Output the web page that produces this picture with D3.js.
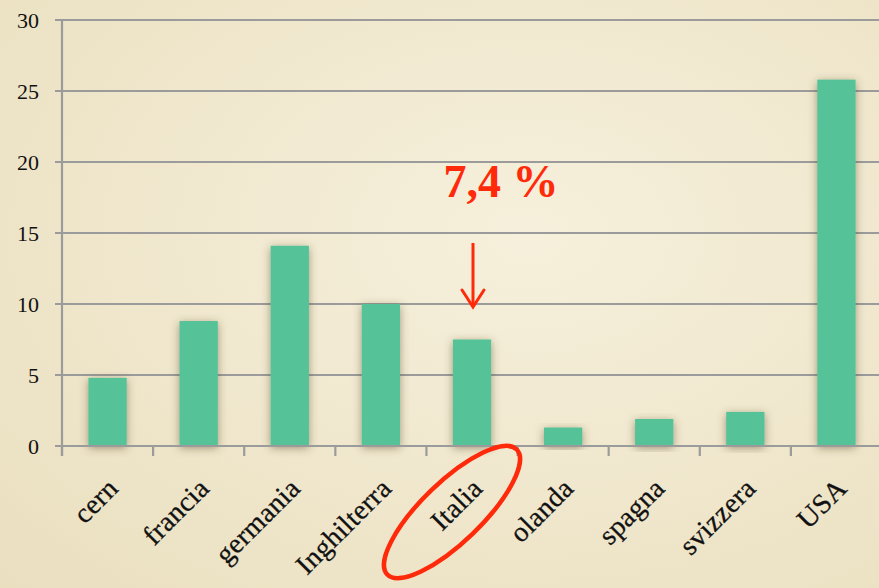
<!DOCTYPE html>
<html><head><meta charset="utf-8">
<script src="https://cdn.jsdelivr.net/npm/d3@7"></script>
<style>
html,body{margin:0;padding:0;background:#f3ecd5;}
svg{display:block;}
</style></head>
<body>
<svg id="chart" width="879" height="588"></svg>
<script>
const categories = ["cern","francia","germania","Inghilterra","Italia","olanda","spagna","svizzera","USA"];
const values = [4.8, 8.8, 14.1, 10.0, 7.5, 1.3, 1.9, 2.4, 25.8];
const yTicks = [0,5,10,15,20,25,30];
const annotationText = "7,4 %";
const highlight = "Italia";

const W = 879, H = 588;
const svg = d3.select("#chart");
const defs = svg.append("defs");

const bg = defs.append("radialGradient").attr("id","bg").attr("cx","60%").attr("cy","40%").attr("r","85%");
bg.append("stop").attr("offset","0%").attr("stop-color","#f6f0dc");
bg.append("stop").attr("offset","100%").attr("stop-color","#eadfbf");
const f = defs.append("filter").attr("id","sh").attr("x","-50%").attr("y","-20%").attr("width","200%").attr("height","140%");
f.append("feDropShadow").attr("dx",0).attr("dy",2).attr("stdDeviation",4.5).attr("flood-color","#4a3a20").attr("flood-opacity",0.5);

svg.append("rect").attr("width",W).attr("height",H).attr("fill","url(#bg)");

const x0 = 62, x1 = 882, yTop = 20, yBot = 446;
const x = d3.scaleBand().domain(categories).range([x0,x1]).paddingInner(0.58).paddingOuter(0.29);
const y = d3.scaleLinear().domain([0,30]).range([yBot,yTop]);

const grid = "#9b9b9b";
svg.append("g").selectAll("line").data(yTicks).join("line")
  .attr("x1",55).attr("x2",W).attr("y1",d=>y(d)).attr("y2",d=>y(d))
  .attr("stroke",grid).attr("stroke-width",2.2);
svg.append("line").attr("x1",x0).attr("x2",x0).attr("y1",yTop-1).attr("y2",yBot+10)
  .attr("stroke",grid).attr("stroke-width",2.2);
svg.append("g").selectAll("text").data(yTicks).join("text")
  .attr("x",39).attr("y",d=>y(d)+8).attr("text-anchor","end")
  .attr("font-family","'Liberation Serif', serif").attr("font-size",22).attr("fill","#111")
  .text(d=>d);
const step = x.step();
const boundaries = categories.map((c,i)=>x0 + i*step);
svg.append("g").selectAll("line").data(boundaries).join("line")
  .attr("x1",d=>d).attr("x2",d=>d).attr("y1",yBot).attr("y2",yBot+10)
  .attr("stroke",grid).attr("stroke-width",2.2);

svg.append("g").selectAll("rect").data(categories).join("rect")
  .attr("x",d=>x(d)).attr("width",x.bandwidth())
  .attr("y",(d,i)=>y(values[i])).attr("height",(d,i)=>yBot-y(values[i]))
  .attr("fill","#55c397").attr("filter","url(#sh)");
svg.append("line").attr("x1",55).attr("x2",W).attr("y1",yBot).attr("y2",yBot)
  .attr("stroke",grid).attr("stroke-width",2.2);

svg.append("g").selectAll("text").data(categories).join("text")
  .attr("transform",d=>`translate(${x(d)+x.bandwidth()/2+12},${yBot+44}) rotate(-45)`)
  .attr("text-anchor","end")
  .attr("font-family","'Liberation Serif', serif").attr("font-size",28).attr("fill","#111")
  .attr("stroke","#111").attr("stroke-width",0.3).attr("letter-spacing",0.3)
  .text(d=>d);

const red = "#ff2a0a";
const cx = x(highlight)+x.bandwidth()/2;
svg.append("text").attr("x",cx+29).attr("y",197).attr("text-anchor","middle")
  .attr("font-family","'Liberation Serif', serif").attr("font-weight","bold").attr("font-size",46)
  .attr("fill",red).text(annotationText);
svg.append("line").attr("x1",cx+1).attr("x2",cx+1).attr("y1",243).attr("y2",306)
  .attr("stroke",red).attr("stroke-width",3);
svg.append("path").attr("d",`M${cx-10},${290} L${cx+1},${307} L${cx+12},${290}`)
  .attr("fill","none").attr("stroke",red).attr("stroke-width",3).attr("stroke-linecap","round");
svg.append("ellipse").attr("cx",452).attr("cy",512).attr("rx",90).attr("ry",30)
  .attr("transform","rotate(-44,452,512)")
  .attr("fill","none").attr("stroke",red).attr("stroke-width",4.5);
</script>
</body></html>
